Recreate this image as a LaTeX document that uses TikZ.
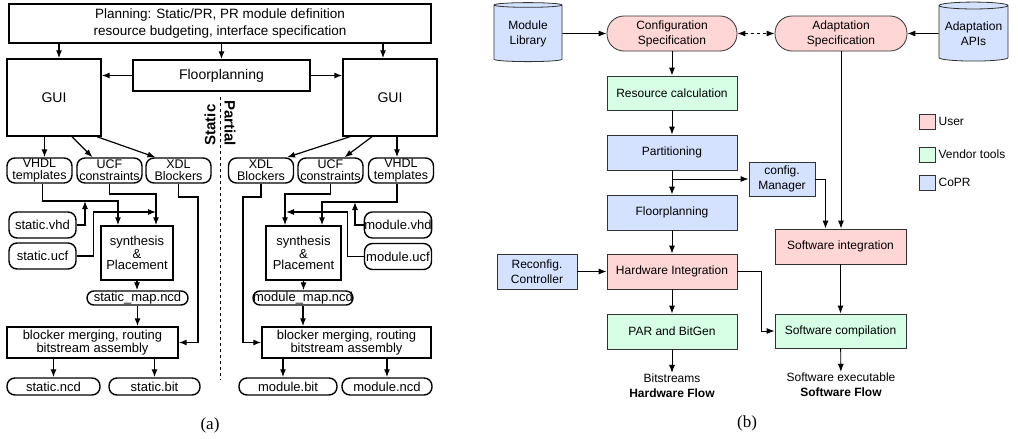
\documentclass[tikz,border=0pt]{standalone}
\usepackage{fontspec}
\setmainfont{Liberation Sans}
\newfontfamily\capfont{Liberation Serif}
\usetikzlibrary{arrows.meta,shapes.geometric}
\definecolor{userpink}{RGB}{255,214,214}
\definecolor{vendgreen}{RGB}{214,255,230}
\definecolor{coprblue}{RGB}{212,226,255}
\definecolor{edge}{RGB}{50,50,50}

\begin{document}
\begin{tikzpicture}[x=1pt, y=-1pt, >={Latex[length=8pt,width=6pt]},
    box/.style={ draw, line width=1.4pt, inner sep=0pt, align=center,
      font=\fontsize{13.5}{17}\selectfont },
    file/.style={ box, rounded corners=8pt,
      font=\fontsize{12.5}{12.2}\selectfont },
    pill/.style={ box, rounded corners=7pt,
      font=\fontsize{13}{14}\selectfont },
    wire/.style={ ->, line width=1.2pt },
    stepbox/.style={ draw=edge, line width=0.8pt, align=center,
      inner sep=0pt, minimum width=130, minimum height=35,
      font=\fontsize{12}{15}\selectfont },
    user/.style={ stepbox, fill=userpink },
    vendor/.style={ stepbox, fill=vendgreen },
    copr/.style={ stepbox, fill=coprblue },
    spec/.style={ user, rounded corners=17pt },
    store/.style={ cylinder, shape border rotate=90, aspect=0.12,
      draw=edge, fill=coprblue, line width=0.8pt, minimum width=68,
      minimum height=59, inner sep=0pt, align=center,
      font=\fontsize{12}{15}\selectfont },
    link/.style={ ->, line width=0.9pt } ]
  \useasboundingbox (0,0) rectangle (1018,439);

  % (a) static and partial flows
  \node[box, minimum width=422, minimum height=39] (plan) at (220,23.5)
    {Planning: Static/PR, PR module definition\\resource budgeting, interface specification};
  \node[box, minimum width=94, minimum height=77,
    font=\fontsize{14}{16}\selectfont] (guiL) at (54,97.5) {GUI};
  \node[box, minimum width=94, minimum height=77,
    font=\fontsize{14}{16}\selectfont] (guiR) at (390,97.5) {GUI};
  \node[box, minimum width=177, minimum height=31,
    font=\fontsize{14}{16}\selectfont] (floor) at (221.5,75.5) {Floorplanning};

  \foreach \n/\x/\t in {vhdlL/39.5/VHDL\\templates, ucfL/109.5/UCF\\constraints,
      xdlL/178.5/XDL\\Blockers, xdlR/261/XDL\\Blockers,
      ucfR/330.5/UCF\\constraints, vhdlR/401/VHDL\\templates}
    \node[file, minimum width=65, minimum height=25] (\n) at (\x,170.5) {\t};
  \foreach \n/\x/\y/\t in {svhd/42.5/225/static.vhd, sucf/42.5/256/static.ucf,
      mvhd/398/225/module.vhd, mucf/398/256.5/module.ucf}
    \node[file, minimum width=67, minimum height=26, font=\fontsize{13}{14}\selectfont]
      (\n) at (\x,\y) {\t};

  \node[box, minimum width=72, minimum height=54,
    font=\fontsize{13}{11}\selectfont] (synL) at (137,253) {synthesis\\\&\\Placement};
  \node[box, minimum width=75, minimum height=54,
    font=\fontsize{13}{11}\selectfont] (synR) at (303.5,253) {synthesis\\\&\\Placement};
  \node[pill, minimum width=101, minimum height=14] (smap) at (137.5,298) {static\_map.ncd};
  \node[pill, minimum width=100, minimum height=14] (mmap) at (303,298) {module\_map.ncd};
  \node[box, minimum width=171, minimum height=31,
    font=\fontsize{13}{12.5}\selectfont] (blkL) at (92.5,342.5)
    {blocker merging, routing\\bitstream assembly};
  \node[box, minimum width=169, minimum height=31,
    font=\fontsize{13}{12.5}\selectfont] (blkR) at (346.5,342.5)
    {blocker merging, routing\\bitstream assembly};
  \foreach \n/\x/\w/\t in {sncd/53.5/93/static.ncd, sbit/154.5/91/static.bit,
      mbit/288/98/module.bit, mncd/387/90/module.ncd}
    \node[pill, minimum width=\w, minimum height=17, rounded corners=8pt] (\n) at (\x,386.5) {\t};

  \draw[dashed, line width=0.9pt] (220,97) -- (220,380);
  \node[rotate=90, font=\fontsize{15}{15}\selectfont\bfseries] (stat) at (210,125) {Static};
  \node[rotate=-90, font=\fontsize{15}{15}\selectfont\bfseries] (prt) at (230,123) {Partial};

  \draw[wire] ([xshift=5pt]guiL.north |- plan.south) -- ([xshift=5pt]guiL.north);
  \draw[wire] (plan.south -| floor.north) -- (floor.north);
  \draw[wire] ([xshift=-7pt]guiR.north |- plan.south) -- ([xshift=-7pt]guiR.north);
  \draw[wire] (floor.west) -- (floor.west -| guiL.east);
  \draw[wire] (floor.east) -- (floor.east -| guiR.west);

  \draw[wire] ([xshift=5pt]vhdlL.north |- guiL.south) -- ([xshift=5pt]vhdlL.north);
  \draw[wire] ([xshift=18pt]guiL.south) -- ([xshift=-17pt]ucfL.north);
  \draw[wire] ([xshift=43pt]guiL.south) -- ([xshift=-23pt]xdlL.north);
  \draw[wire] ([xshift=-40pt]guiR.south) -- ([xshift=26pt]xdlR.north);
  \draw[wire] ([xshift=-18pt]guiR.south) -- ([xshift=14pt]ucfR.north);
  \draw[wire] ([xshift=-4pt]vhdlR.north |- guiR.south) -- ([xshift=-4pt]vhdlR.north);

  % static side wiring
  \coordinate (ja) at (118,201);
  \coordinate (jb) at (85,201);
  \coordinate (jc) at (156,194);
  \coordinate (jd) at (156,212);
  \coordinate (je) at (198,197);
  \draw[wire] ([xshift=3pt]vhdlL.south) |- (ja) -- (ja |- synL.north);
  \draw[wire] (svhd.east) -| (jb);
  \draw[wire] (ucfL.south) |- (jc) -- (jc |- synL.north);
  \draw[wire] (sucf.east) -- ++(17,0) |- (jd);
  \draw[wire] (xdlL.south) |- (je) |- (blkL.east);
  \draw[wire] (synL.south) -- (synL.south |- smap.north);
  \draw[wire] (smap.south) -- (smap.south |- blkL.north);
  \draw[wire] (blkL.south -| sncd) -- (sncd.north);
  \draw[wire] (blkL.south -| sbit) -- (sbit.north);

  % partial side wiring
  \coordinate (jf) at (243,197);
  \coordinate (jg) at (285,194);
  \coordinate (jh) at (322,202);
  \coordinate (ji) at (355,202);
  \coordinate (jk) at (286,212);
  \draw[wire] (xdlR.south) |- (jf) |- (blkR.west);
  \draw[wire] (ucfR.south) |- (jg) -- (jg |- synR.north);
  \draw[wire] ([xshift=-4pt]vhdlR.south) |- (jh) -- (jh |- synR.north);
  \draw[wire] (mvhd.west) -| (ji);
  \draw[wire] (mucf.west) -- ++(-16,0) |- (jk);
  \draw[wire] (synR.south) -- (synR.south |- mmap.north);
  \draw[wire] (mmap.south) -- (mmap.south |- blkR.north);
  \draw[wire] ([xshift=-5pt]mbit.north |- blkR.south) -- ([xshift=-5pt]mbit.north);
  \draw[wire] (blkR.south -| mncd) -- (mncd.north);

  \node[font=\capfont\fontsize{17}{17}\selectfont] (capa) at (210,425) {(a)};

  % (b) CoPR flow
  \node[store] (mlib) at (528,33.5) {Module\\Library};
  \node[spec] (cfg) at (672,33.5) {Configuration\\Specification};
  \node[spec, minimum width=132] (adp) at (841,33.5) {Adaptation\\Specification};
  \node[store, minimum width=69] (api) at (973.5,33.5) {Adaptation\\APIs};
  \node[vendor, minimum height=34] (res) at (672,93) {Resource calculation};
  \node[copr] (part) at (672,152.5) {Partitioning};
  \node[copr] (floorB) at (672,212.5) {Floorplanning};
  \node[user] (hwi) at (672,271.5) {Hardware Integration};
  \node[vendor] (par) at (672,331.5) {PAR and BitGen};
  \node[copr, minimum width=66, minimum height=34] (mgr) at (782,179) {config.\\Manager};
  \node[copr, minimum width=80] (rcc) at (537,271.5) {Reconfig.\\Controller};
  \node[user, minimum width=131] (swi) at (840.5,246.5) {Software integration};
  \node[vendor, minimum width=131, minimum height=34] (swc) at (840.5,331) {Software compilation};
  \node[align=center, inner sep=1pt, font=\fontsize{12}{15}\selectfont] (bits) at (672,386)
    {Bitstreams\\\textbf{Hardware Flow}};
  \node[align=center, inner sep=1pt, font=\fontsize{12}{15}\selectfont] (swe) at (841,385)
    {Software executable\\\textbf{Software Flow}};

  \foreach \n/\c/\y/\t in {lu/userpink/121.5/User, lv/vendgreen/154.5/Vendor tools,
      lc/coprblue/182.5/CoPR} {
    \node[draw=edge, fill=\c, line width=0.8pt, minimum width=16, minimum height=15,
      inner sep=0pt] (\n) at (927,\y) {};
    \node[anchor=west, inner sep=3pt, font=\fontsize{12}{15}\selectfont] (t\n) at (\n.east) {\t};
  }

  \draw[link] (mlib) -- (cfg);
  \draw[link, <->, dashed] (cfg) -- (adp);
  \draw[link] (api) -- (adp);
  \draw[link] (cfg) -- (res);
  \draw[link] (res) -- (part);
  \draw[link] (part) -- (floorB);
  \draw[link] (floorB) -- (hwi);
  \draw[link] (hwi) -- (par);
  \draw[link] (par) -- (bits);
  \draw[link] (rcc) -- (hwi);
  \draw[link] (part.south |- mgr.west) -- (mgr.west);
  \draw[link] (hwi.east) -- ++(24,0) |- (swc.west);
  \draw[link] (mgr.east) -| ([xshift=-15pt]swi.north);
  \draw[link] (adp.south) -- (adp.south |- swi.north);
  \draw[link] (swi) -- (swc);
  \draw[link] (swc) -- (swe);

  \node[font=\capfont\fontsize{17}{17}\selectfont] (capb) at (747,423) {(b)};
\end{tikzpicture}
\end{document}
